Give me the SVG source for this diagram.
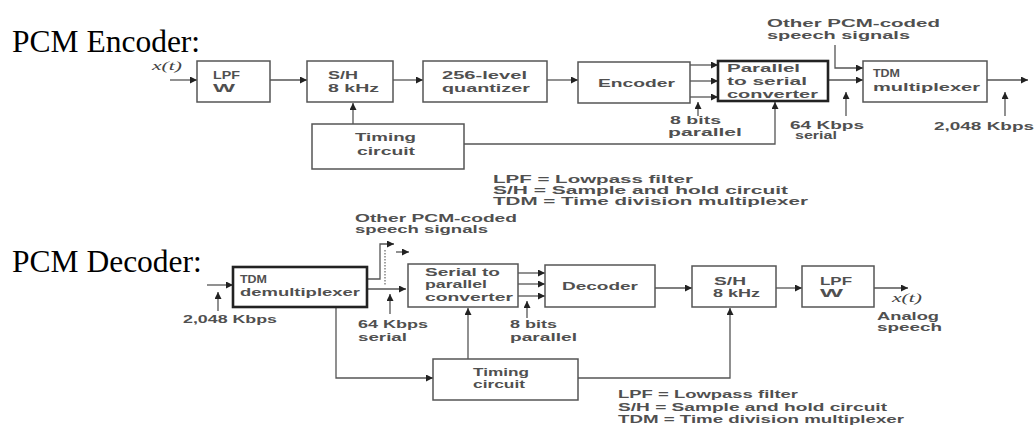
<svg xmlns="http://www.w3.org/2000/svg" width="1036" height="428" viewBox="0 0 1036 428">
<style>
.t{font-family:"Liberation Sans",Arial,sans-serif;font-size:11.5px;font-weight:bold;fill:#505050}
.i{font-family:"Liberation Serif","Times New Roman",serif;font-size:11.5px;font-style:italic;fill:#444}
.title{font-family:"Liberation Serif","Times New Roman",serif;font-size:31.5px;fill:#000}
.box{fill:#fff;stroke:#555;stroke-width:1.5}
.thick{fill:#fff;stroke:#222;stroke-width:2.6}
.arr{fill:none;stroke:#555;stroke-width:1.3;marker-end:url(#ah)}
.dot{fill:none;stroke:#666;stroke-width:1.2;stroke-dasharray:1.5 1.5}
</style>
<defs>
<marker id="ah" viewBox="0 0 10 10" refX="10" refY="5" markerWidth="10" markerHeight="7" markerUnits="userSpaceOnUse" orient="auto">
<path d="M0,0 L10,5 L0,10 z" fill="#222"/>
</marker>
</defs>
<rect width="1036" height="428" fill="#fff"/>

<text class="title" x="12" y="52">PCM Encoder:</text>
<text class="title" x="12" y="272">PCM Decoder:</text>

<g id="connectors">
<path class="arr" d="M170,80 H197"/>
<path class="arr" d="M270,80 H307"/>
<path class="arr" d="M393,80 H423"/>
<path class="arr" d="M547,80 H578"/>
<path class="arr" d="M690,65 H718"/>
<path class="arr" d="M690,81 H718"/>
<path class="arr" d="M690,97 H718"/>
<path class="arr" d="M698,116 V102"/>
<path class="arr" d="M828,80 H863"/>
<path class="arr" d="M835,45 V68 H863"/>
<path class="arr" d="M846,116 V92"/>
<path class="arr" d="M987,80 H1028"/>
<path class="arr" d="M1005,116 V92"/>
<path class="arr" d="M353,124 V103"/>
<path class="arr" d="M464,144 H775 V102"/>
<path class="arr" d="M207,285 H233"/>
<path class="arr" d="M218,311 V292"/>
<path class="arr" d="M367,279 H380 V244 H394"/>
<path class="arr" d="M396,252 H409"/>
<path class="dot" d="M385,250 V286"/>
<path class="arr" d="M367,289 H406"/>
<path class="arr" d="M390,314 V294"/>
<path class="arr" d="M518,273 H545"/>
<path class="arr" d="M518,284 H545"/>
<path class="arr" d="M518,296 H545"/>
<path class="arr" d="M527,318 V301"/>
<path class="arr" d="M655,288 H692"/>
<path class="arr" d="M776,288 H802"/>
<path class="arr" d="M874,288 H908"/>
<path class="arr" d="M468,359 V308"/>
<path class="arr" d="M336,307 V378 H433"/>
<path class="arr" d="M578,378 H730 V308"/>
</g>

<g id="enc-input"><text class="i" x="152" y="70" textLength="30" lengthAdjust="spacingAndGlyphs">x(t)</text></g>
<g id="enc-lpf"><rect class="box" x="197" y="61" width="73" height="41"/>
<text class="t" x="213" y="79" textLength="27" lengthAdjust="spacingAndGlyphs">LPF</text>
<text class="t" x="213" y="92" textLength="22" lengthAdjust="spacingAndGlyphs">W</text></g>
<g id="enc-sh"><rect class="box" x="307" y="61" width="86" height="41"/>
<text class="t" x="328" y="79" textLength="30" lengthAdjust="spacingAndGlyphs">S/H</text>
<text class="t" x="328" y="92" textLength="51" lengthAdjust="spacingAndGlyphs">8 kHz</text></g>
<g id="enc-quant"><rect class="box" x="423" y="61" width="124" height="41"/>
<text class="t" x="442" y="79" textLength="85" lengthAdjust="spacingAndGlyphs">256-level</text>
<text class="t" x="442" y="92" textLength="88" lengthAdjust="spacingAndGlyphs">quantizer</text></g>
<g id="enc-encoder"><rect class="box" x="578" y="62" width="112" height="41"/>
<text class="t" x="598" y="87" textLength="77" lengthAdjust="spacingAndGlyphs">Encoder</text></g>
<g id="enc-ps"><rect class="thick" x="718" y="61" width="110" height="40"/>
<text class="t" x="727" y="72" textLength="73" lengthAdjust="spacingAndGlyphs">Parallel</text>
<text class="t" x="727" y="85" textLength="80" lengthAdjust="spacingAndGlyphs">to serial</text>
<text class="t" x="727" y="98" textLength="91" lengthAdjust="spacingAndGlyphs">converter</text></g>
<g id="enc-tdm"><rect class="box" x="863" y="61" width="124" height="41"/>
<text class="t" x="873" y="77" textLength="27" lengthAdjust="spacingAndGlyphs">TDM</text>
<text class="t" x="873" y="91" textLength="107" lengthAdjust="spacingAndGlyphs">multiplexer</text></g>
<g id="enc-timing"><rect class="box" x="312" y="124" width="152" height="45"/>
<text class="t" x="355" y="141" textLength="61" lengthAdjust="spacingAndGlyphs">Timing</text>
<text class="t" x="357" y="155" textLength="58" lengthAdjust="spacingAndGlyphs">circuit</text></g>
<g id="enc-labels">
<text class="t" x="767" y="27" textLength="173" lengthAdjust="spacingAndGlyphs">Other PCM-coded</text>
<text class="t" x="767" y="39" textLength="143" lengthAdjust="spacingAndGlyphs">speech signals</text>
<text class="t" x="670" y="124" textLength="51" lengthAdjust="spacingAndGlyphs">8 bits</text>
<text class="t" x="668" y="136" textLength="74" lengthAdjust="spacingAndGlyphs">parallel</text>
<text class="t" x="790" y="129" textLength="74" lengthAdjust="spacingAndGlyphs">64 Kbps</text>
<text class="t" x="795" y="139" textLength="42" lengthAdjust="spacingAndGlyphs">serial</text>
<text class="t" x="934" y="130" textLength="100" lengthAdjust="spacingAndGlyphs">2,048 Kbps</text>
</g>
<g id="enc-legend">
<text class="t" x="493" y="183" textLength="200" lengthAdjust="spacingAndGlyphs">LPF = Lowpass filter</text>
<text class="t" x="493" y="194" textLength="295" lengthAdjust="spacingAndGlyphs">S/H = Sample and hold circuit</text>
<text class="t" x="493" y="205" textLength="315" lengthAdjust="spacingAndGlyphs">TDM = Time division multiplexer</text>
</g>

<g id="dec-demux"><rect class="thick" x="233" y="267" width="134" height="40"/>
<text class="t" x="240" y="283" textLength="27" lengthAdjust="spacingAndGlyphs">TDM</text>
<text class="t" x="240" y="296" textLength="120" lengthAdjust="spacingAndGlyphs">demultiplexer</text></g>
<g id="dec-sp"><rect class="box" x="408" y="264" width="110" height="43"/>
<text class="t" x="425" y="276" textLength="75" lengthAdjust="spacingAndGlyphs">Serial to</text>
<text class="t" x="425" y="288" textLength="62" lengthAdjust="spacingAndGlyphs">parallel</text>
<text class="t" x="425" y="301" textLength="88" lengthAdjust="spacingAndGlyphs">converter</text></g>
<g id="dec-decoder"><rect class="box" x="545" y="265" width="110" height="42"/>
<text class="t" x="562" y="290" textLength="76" lengthAdjust="spacingAndGlyphs">Decoder</text></g>
<g id="dec-sh"><rect class="box" x="692" y="266" width="84" height="41"/>
<text class="t" x="714" y="285" textLength="32" lengthAdjust="spacingAndGlyphs">S/H</text>
<text class="t" x="713" y="297" textLength="47" lengthAdjust="spacingAndGlyphs">8 kHz</text></g>
<g id="dec-lpf"><rect class="box" x="802" y="266" width="72" height="41"/>
<text class="t" x="820" y="285" textLength="32" lengthAdjust="spacingAndGlyphs">LPF</text>
<text class="t" x="820" y="297" textLength="23" lengthAdjust="spacingAndGlyphs">W</text></g>
<g id="dec-timing"><rect class="box" x="433" y="359" width="145" height="41"/>
<text class="t" x="473" y="376" textLength="56" lengthAdjust="spacingAndGlyphs">Timing</text>
<text class="t" x="473" y="388" textLength="52" lengthAdjust="spacingAndGlyphs">circuit</text></g>
<g id="dec-labels">
<text class="t" x="183" y="323" textLength="94" lengthAdjust="spacingAndGlyphs">2,048 Kbps</text>
<text class="t" x="355" y="222" textLength="162" lengthAdjust="spacingAndGlyphs">Other PCM-coded</text>
<text class="t" x="355" y="233" textLength="133" lengthAdjust="spacingAndGlyphs">speech signals</text>
<text class="t" x="358" y="328" textLength="70" lengthAdjust="spacingAndGlyphs">64 Kbps</text>
<text class="t" x="358" y="341" textLength="49" lengthAdjust="spacingAndGlyphs">serial</text>
<text class="t" x="510" y="328" textLength="47" lengthAdjust="spacingAndGlyphs">8 bits</text>
<text class="t" x="510" y="341" textLength="67" lengthAdjust="spacingAndGlyphs">parallel</text>
<text class="i" x="892" y="302" textLength="30" lengthAdjust="spacingAndGlyphs">x(t)</text>
<text class="t" x="877" y="320" textLength="62" lengthAdjust="spacingAndGlyphs">Analog</text>
<text class="t" x="877" y="331" textLength="65" lengthAdjust="spacingAndGlyphs">speech</text>
</g>
<g id="dec-legend">
<text class="t" x="618" y="398" textLength="180" lengthAdjust="spacingAndGlyphs">LPF = Lowpass filter</text>
<text class="t" x="618" y="411" textLength="269" lengthAdjust="spacingAndGlyphs">S/H = Sample and hold circuit</text>
<text class="t" x="618" y="423" textLength="286" lengthAdjust="spacingAndGlyphs">TDM = Time division multiplexer</text>
</g>
</svg>
